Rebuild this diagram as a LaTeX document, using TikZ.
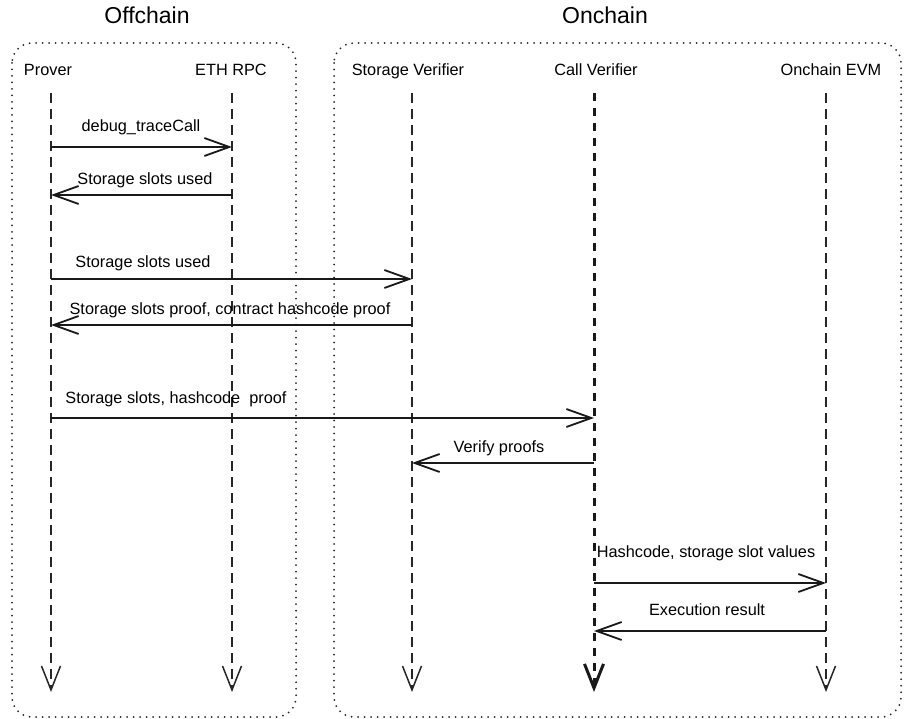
\documentclass[tikz,border=0pt]{standalone}
\usepackage{fontspec}
\setmainfont{Liberation Sans}
\usetikzlibrary{arrows.meta}
\begin{document}
\begin{tikzpicture}[x=1pt,y=-1pt,
  title/.style={font=\fontsize{23}{27}\selectfont, anchor=base, inner sep=0pt},
  actor/.style={font=\fontsize{16.3}{19}\selectfont, anchor=base, inner sep=0pt},
  msglabel/.style={font=\fontsize{16.3}{19}\selectfont, anchor=base, inner sep=0pt},
  groupbox/.style={draw=black!85, line width=2pt, line cap=round, dash pattern=on 0pt off 6.5pt, rounded corners=20pt},
  lifeline/.style={draw=black!85, line width=1.5pt, dash pattern=on 10pt off 6pt, -{Straight Barb[length=24pt,width=19pt]}},
  mainlife/.style={draw=black!90, line width=3pt, dash pattern=on 8pt off 7pt, -{Straight Barb[length=24pt,width=19pt]}},
  msg/.style={draw=black!90, line width=1.8pt, -{Straight Barb[length=25pt,width=18pt]}}]
\useasboundingbox (0,0) rectangle (904,719);

% group titles
\node[title] (offT) at (147,24) {Offchain};
\node[title] (onT) at (605,24) {Onchain};

% group boxes
\draw[groupbox] (12,43) rectangle (296,717);
\draw[groupbox] (334,43) rectangle (901,717);

% actors
\node[actor] (prover) at (48,76) {Prover};
\node[actor] (eth) at (231,76) {ETH RPC};
\node[actor] (sv) at (408,76) {Storage Verifier};
\node[actor] (cv) at (596,76) {Call Verifier};
\node[actor] (evm) at (831,76) {Onchain EVM};

% lifeline ends
\coordinate (pT) at (51,93);   \coordinate (pB) at (51,692);
\coordinate (eT) at (232,93);  \coordinate (eB) at (232,692);
\coordinate (sT) at (412,93);  \coordinate (sB) at (412,692);
\coordinate (cT) at (594,93);  \coordinate (cB) at (594,692);
\coordinate (vT) at (826,93);  \coordinate (vB) at (826,692);

\draw[lifeline] (pT) -- (pB);
\draw[lifeline] (eT) -- (eB);
\draw[lifeline] (sT) -- (sB);
\draw[mainlife] (cT) -- (cB);
\draw[lifeline] (vT) -- (vB);

% messages
\draw[msg] (pT |- 0,147) -- (eT |- 0,147);
\node[msglabel] (m1) at (141,132) {debug\_traceCall};

\draw[msg] (eT |- 0,195) -- (pT |- 0,195);
\node[msglabel] (m2) at (145,185) {Storage slots used};

\draw[msg] (pT |- 0,279) -- (sT |- 0,279);
\node[msglabel] (m3) at (143,267) {Storage slots used};

\draw[msg] (sT |- 0,325) -- (pT |- 0,325);
\node[msglabel] (m4) at (230,314) {Storage slots proof, contract hashcode proof};

\draw[msg] (pT |- 0,418) -- (cT |- 0,418);
\node[msglabel] (m5) at (176,403) {Storage slots, hashcode\ \ proof};

\draw[msg] (cT |- 0,463) -- (sT |- 0,463);
\node[msglabel] (m6) at (499,452) {Verify proofs};

\draw[msg] (cT |- 0,583) -- (vT |- 0,583);
\node[msglabel] (m7) at (706,557) {Hashcode, storage slot values};

\draw[msg] (vT |- 0,631) -- (cT |- 0,631);
\node[msglabel] (m8) at (707,615) {Execution result};
\end{tikzpicture}
\end{document}
